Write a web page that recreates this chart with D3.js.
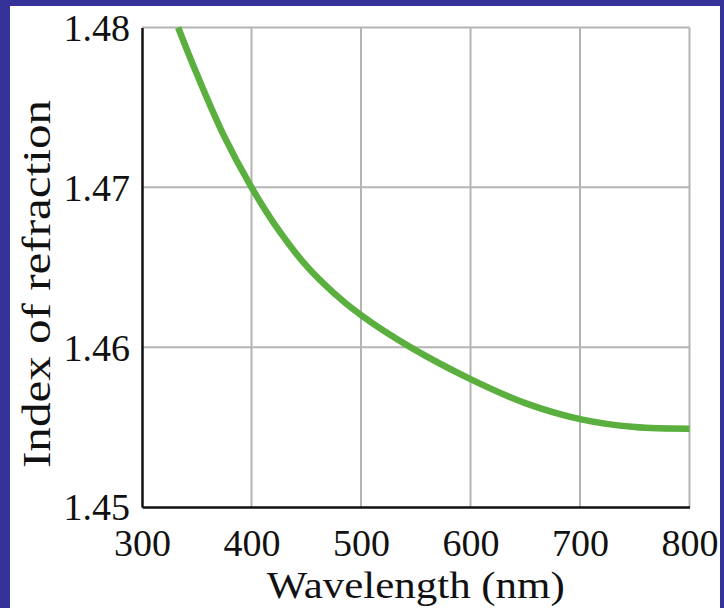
<!DOCTYPE html>
<html>
<head>
<meta charset="utf-8">
<script src="https://cdn.jsdelivr.net/npm/d3@7"></script>
<style>
  html, body { margin: 0; padding: 0; background: #35339a; }
  svg { display: block; }
</style>
</head>
<body>
<svg id="canvas" width="724" height="608"></svg>
<script>
// data
var wavelength = [333, 350, 375, 400, 425, 450, 475, 500, 545, 600, 650, 700, 750, 800];
var index_n    = [1.4800, 1.4771, 1.4732, 1.4700, 1.4673, 1.4651, 1.4634, 1.4620, 1.4600, 1.4580, 1.4565, 1.4555, 1.4550, 1.4549];
var x_ticks = [300, 400, 500, 600, 700, 800];
var y_ticks = [1.45, 1.46, 1.47, 1.48];

var serif = 'Liberation Serif';
var svg = d3.select('#canvas');

// white panel inside the blue frame
svg.append('rect')
  .attr('x', 10).attr('y', 6).attr('width', 710).attr('height', 602)
  .attr('fill', '#fff');

// ********************************************************** //
// scales

var x0 = 142, x1 = 689.5, y0 = 507, y1 = 27.5;
var xScale = d3.scaleLinear().domain([300, 800]).range([x0, x1]);
var yScale = d3.scaleLinear().domain([1.45, 1.48]).range([y0, y1]);

var g = svg.append('g');

// grid
g.selectAll('.vgrid').data(x_ticks.slice(1)).enter().append('line')
  .attr('x1', d => xScale(d)).attr('x2', d => xScale(d))
  .attr('y1', y0).attr('y2', y1)
  .attr('stroke', '#b4b4b4').attr('stroke-width', 2);
g.selectAll('.hgrid').data(y_ticks.slice(1)).enter().append('line')
  .attr('x1', x0).attr('x2', x1)
  .attr('y1', d => yScale(d)).attr('y2', d => yScale(d))
  .attr('stroke', '#b4b4b4').attr('stroke-width', 2);

// axes (left and bottom are black)
var xAxis = g.append('g').attr('transform', 'translate(0,' + y0 + ')')
  .call(d3.axisBottom(xScale).tickValues(x_ticks).tickSize(0).tickPadding(22).tickFormat(d3.format('d')));
var yAxis = g.append('g').attr('transform', 'translate(' + x0 + ',0)')
  .call(d3.axisLeft(yScale).tickValues(y_ticks).tickSize(0).tickPadding(12).tickFormat(d3.format('.2f')));

[xAxis, yAxis].forEach(a => {
  a.attr('font-family', serif).attr('font-size', 38);
  a.select('.domain').attr('stroke', '#111').attr('stroke-width', 2.5);
  a.selectAll('text').attr('fill', '#111');
});
xAxis.selectAll('text').attr('dy', '0.71em');
yAxis.selectAll('text').attr('dy', '0.34em');

// curve
var lineGen = d3.line()
  .x((d, i) => xScale(wavelength[i]))
  .y((d, i) => yScale(index_n[i]))
  .curve(d3.curveCatmullRom.alpha(0.5));

g.append('path').datum(wavelength)
  .attr('d', lineGen)
  .attr('fill', 'none')
  .attr('stroke', '#5aaf3e')
  .attr('stroke-width', 6.5);

// titles
svg.append('text')
  .attr('x', (x0 + x1) / 2).attr('y', 598)
  .attr('text-anchor', 'middle')
  .attr('font-family', serif).attr('font-size', 37).attr('fill', '#111')
  .attr('textLength', 298).attr('lengthAdjust', 'spacingAndGlyphs')
  .text('Wavelength (nm)');

svg.append('text')
  .attr('transform', 'translate(50,284) rotate(-90)')
  .attr('text-anchor', 'middle')
  .attr('font-family', serif).attr('font-size', 40).attr('fill', '#111')
  .attr('textLength', 368).attr('lengthAdjust', 'spacingAndGlyphs')
  .text('Index of refraction');
</script>
</body>
</html>
